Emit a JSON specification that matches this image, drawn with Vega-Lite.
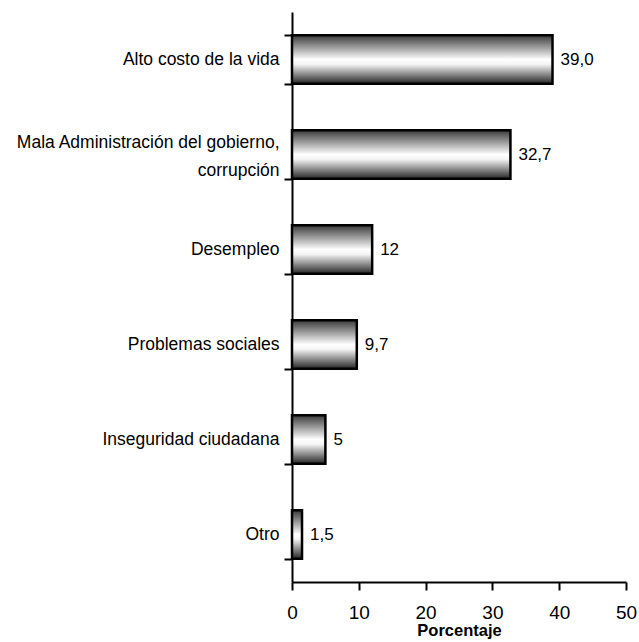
{
  "$schema": "https://vega.github.io/schema/vega-lite/v6.json",
  "autosize": "none",
  "width": 334,
  "height": 570,
  "padding": {"left": 292, "top": 12, "right": 13, "bottom": 60},
  "background": "white",
  "config": {"view": {"stroke": null}},
  "data": {
    "values": [
      {"cat": "Alto costo de la vida", "val": 39.0, "lbl": "39,0"},
      {"cat": "Mala Administración del gobierno, corrupción", "val": 32.7, "lbl": "32,7"},
      {"cat": "Desempleo", "val": 12, "lbl": "12"},
      {"cat": "Problemas sociales", "val": 9.7, "lbl": "9,7"},
      {"cat": "Inseguridad ciudadana", "val": 5, "lbl": "5"},
      {"cat": "Otro", "val": 1.5, "lbl": "1,5"}
    ]
  },
  "encoding": {
    "y": {
      "field": "cat", "type": "nominal", "sort": null,
      "scale": {"paddingInner": 0.49, "paddingOuter": 0.245},
      "axis": {
        "title": null,
        "domainColor": "black", "domainWidth": 2,
        "tickColor": "black", "tickWidth": 2, "tickSize": 8,
        "tickBand": "extent",
        "labelFont": "Liberation Sans", "labelFontSize": 17.5, "labelColor": "black",
        "labelPadding": 5, "labelLimit": 300, "labelLineHeight": 28,
        "labelOffset": {"condition": {"test": "datum.value == 'Mala Administración del gobierno, corrupción'", "value": -12}, "value": 0},
        "labelExpr": "datum.label == 'Mala Administración del gobierno, corrupción' ? ['Mala Administración del gobierno,', 'corrupción'] : datum.label"
      }
    }
  },
  "layer": [
    {
      "mark": {
        "type": "bar",
        "stroke": "black", "strokeWidth": 2.5,
        "color": {
          "gradient": "linear", "x1": 0, "y1": 0, "x2": 0, "y2": 1,
          "stops": [
            {"offset": 0, "color": "#3a3a3a"},
            {"offset": 0.5, "color": "#ffffff"},
            {"offset": 0.6, "color": "#f4f4f4"},
            {"offset": 1, "color": "#262626"}
          ]
        }
      },
      "encoding": {
        "x": {
          "field": "val", "type": "quantitative",
          "scale": {"domain": [0, 50], "nice": false},
          "axis": {
            "title": "Porcentaje",
            "titleFont": "Liberation Sans", "titleFontSize": 16.5, "titleFontWeight": "bold",
            "titleColor": "black", "titlePadding": 0,
            "values": [0, 10, 20, 30, 40, 50],
            "grid": false,
            "domainColor": "black", "domainWidth": 2,
            "tickColor": "black", "tickWidth": 2, "tickSize": 8,
            "labelFont": "Liberation Sans", "labelFontSize": 19, "labelColor": "black",
            "labelPadding": 13, "labelFlush": false
          }
        }
      }
    },
    {
      "mark": {"type": "text", "align": "left", "dx": 8, "font": "Liberation Sans", "fontSize": 17, "color": "black"},
      "encoding": {
        "x": {"field": "val", "type": "quantitative"},
        "text": {"field": "lbl"}
      }
    }
  ]
}
